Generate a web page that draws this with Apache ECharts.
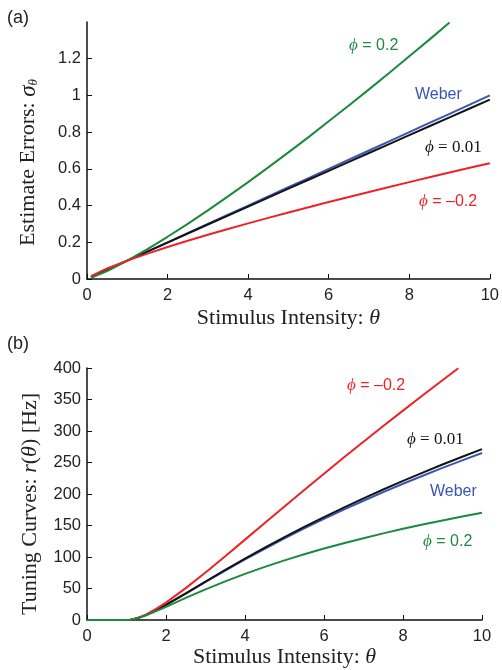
<!DOCTYPE html>
<html>
<head>
<meta charset="utf-8">
<script src="https://cdn.jsdelivr.net/npm/echarts@6/dist/echarts.min.js"></script>
<style>
html,body{margin:0;padding:0;background:#fff;}
#chart{width:502px;height:670px;}
</style>
</head>
<body>
<div id="chart"></div>
<script>
// ---------- Panel (a): estimate errors ----------
const thetaA = [0.1,0.5,1,1.5,2,2.5,3,3.5,4,4.5,5,5.5,6,6.5,7,7.5,8,8.5,9,9.5,10];
const weberA = [0.01,0.05,0.1,0.15,0.2,0.25,0.3,0.35,0.4,0.45,0.5,0.55,0.6,0.65,0.7,0.75,0.8,0.85,0.9,0.95,1.0];
const phi001A = [0.0102,0.0503,0.1,0.1494,0.1986,0.2477,0.2967,0.3456,0.3945,0.4433,0.4920,0.5407,0.5893,0.6379,0.6865,0.7350,0.7835,0.8320,0.8804,0.9288,0.9772];
const phi02A = [0.0063,0.0435,0.1,0.163,0.230,0.300,0.374,0.450,0.528,0.608,0.690,0.773,0.859,0.945,1.033,1.122,1.213,1.304,1.397];
const phim02A = [0.0158,0.0574,0.1,0.1383,0.1741,0.2081,0.2408,0.2724,0.3031,0.3331,0.3624,0.3911,0.4193,0.4470,0.4743,0.5012,0.5278,0.5540,0.5800,0.6056,0.6310];
const yTicksA = [0,0.2,0.4,0.6,0.8,1,1.2];

// ---------- Panel (b): tuning curves ----------
const thetaB = [0,0.5,1,1.1,1.2,1.3,1.4,1.5,1.75,2,2.5,3,3.5,4,4.5,5,5.5,6,6.5,7,7.5,8,8.5,9,9.5,10];
const weberB = [0,0,0,0.454,1.662,3.442,5.661,8.22,15.66,24.02,41.98,60.35,78.47,96.09,113.1,129.5,145.3,160.5,175.2,189.3,203.0,216.2,229.0,241.4,253.4,265.1];
const phi001B = [0,0,0,0.455,1.665,3.451,5.68,8.25,15.75,24.19,42.37,61.02,79.47,97.44,114.8,131.6,147.8,163.4,178.5,193.1,207.1,220.8,233.9,246.8,259.2,271.3];
const phi02B = [0,0,0,0.446,1.603,3.267,5.294,7.59,14.01,20.95,35.04,48.64,61.39,73.29,84.34,94.68,104.3,113.4,121.9,129.9,137.5,144.7,151.5,158.1,164.3,170.2];
const thetaRedB = [0,0.5,1,1.1,1.2,1.3,1.4,1.5,1.75,2,2.5,3,3.5,4,4.5,5,5.5,6,6.5,7,7.5,8,8.5,9,9.4];
const phim02B = [0,0,0,0.463,1.724,3.628,6.057,8.93,17.53,27.64,50.55,75.46,101.3,127.6,153.9,180.2,206.3,232.2,257.8,283.0,307.9,332.4,356.7,380.6,399.6];
const xTicks = [0,2,4,6,8,10];

const pairs = (xs, ys) => ys.map((y, i) => [xs[i], y]);

const C = {green:'#1b8a3e', blue:'#3a55b3', red:'#ec2227', black:'#141414'};
const SANS = 'Liberation Sans';
const SERIF = 'Liberation Serif';
const NAME_FS = 22;

function xAxisCfg(gi, gap){
  return {
    type:'value', gridIndex:gi, min:0, max:10, interval:2,
    axisLine:{show:true, onZero:false, lineStyle:{color:'#111', width:1.5}},
    axisTick:{show:true, inside:true, length:5, lineStyle:{color:'#111', width:1}},
    axisLabel:{show:true, margin:8, fontFamily:SANS, fontSize:16.5, color:'#222'},
    splitLine:{show:false},
    name:'{n|Stimulus Intensity: }{i|θ}', nameLocation:'middle', nameGap:gap,
    nameTextStyle:{rich:{n:{fontFamily:SERIF, fontSize:NAME_FS, color:'#222'}, i:{fontFamily:SERIF, fontStyle:'italic', fontSize:NAME_FS, color:'#222'}}}
  };
}

const lineS = (name, xi, yi, data, color, z) => ({
  name, type:'line', xAxisIndex:xi, yAxisIndex:yi, data, showSymbol:false, symbol:'none',
  smooth:false, lineStyle:{color, width:2}, itemStyle:{color}, z, silent:true, animation:false
});

const chart = echarts.init(document.getElementById('chart'), null, {renderer:'canvas'});
const option = {
  backgroundColor:'#fff',
  animation:false,
  grid:[
    {left:87, right:10, top:22, height:257},
    {left:87, width:395, top:368, height:252}
  ],
  xAxis:[xAxisCfg(0, 28), xAxisCfg(1, 26)],
  yAxis:[
    {
      type:'value', gridIndex:0, min:0, max:1.4, interval:0.2,
      axisLine:{show:true, lineStyle:{color:'#111', width:1.5}},
      axisTick:{show:true, inside:true, length:5, customValues:yTicksA, lineStyle:{color:'#111'}},
      axisLabel:{show:true, margin:6, fontFamily:SANS, fontSize:16.5, color:'#222', customValues:yTicksA},
      splitLine:{show:false},
      name:'{n|Estimate Errors: }{s|σ}{b|θ}', nameLocation:'middle', nameGap:47, nameRotate:90,
      nameTextStyle:{padding:[0,24,0,0], rich:{
        n:{fontFamily:SERIF, fontSize:NAME_FS, color:'#222'},
        s:{fontFamily:SERIF, fontStyle:'italic', fontSize:23, color:'#222'},
        b:{fontFamily:SERIF, fontStyle:'italic', fontSize:13, color:'#222', verticalAlign:'bottom', padding:[9,0,0,0]}
      }}
    },
    {
      type:'value', gridIndex:1, min:0, max:400, interval:50,
      axisLine:{show:true, lineStyle:{color:'#111', width:1.5}},
      axisTick:{show:true, inside:true, length:5, lineStyle:{color:'#111'}},
      axisLabel:{show:true, margin:6, fontFamily:SANS, fontSize:16.5, color:'#222'},
      splitLine:{show:false},
      name:'{n|Tuning Curves: }{i|r}{n|(}{i|θ}{n|) [Hz]}', nameLocation:'middle', nameGap:46, nameRotate:90,
      nameTextStyle:{padding:[0,20,0,0], rich:{
        n:{fontFamily:SERIF, fontSize:NAME_FS, color:'#222'},
        i:{fontFamily:SERIF, fontStyle:'italic', fontSize:NAME_FS, color:'#222'}
      }}
    }
  ],
  series:[
    lineS('Weber', 0, 0, pairs(thetaA, weberA), C.blue, 2),
    lineS('φ = 0.01', 0, 0, pairs(thetaA, phi001A), C.black, 3),
    lineS('φ = 0.2', 0, 0, pairs(thetaA, phi02A), C.green, 4),
    lineS('φ = -0.2', 0, 0, pairs(thetaA, phim02A), C.red, 4),
    lineS('Weber', 1, 1, pairs(thetaB, weberB), C.blue, 2),
    lineS('φ = 0.01', 1, 1, pairs(thetaB, phi001B), C.black, 3),
    lineS('φ = -0.2', 1, 1, pairs(thetaRedB, phim02B), C.red, 4),
    lineS('φ = 0.2', 1, 1, pairs(thetaB, phi02B), C.green, 5)
  ],
  graphic:[]
};

function label(x, y, text, color, serif){
  const fam = serif ? SERIF : SANS;
  return {
    type:'text', x, y, silent:true, z:100,
    style:{
      text, align:'left', verticalAlign:'middle', fill:color,
      rich:{
        p:{fontFamily:SERIF, fontStyle:'italic', fontSize:17, fill:color, color},
        t:{fontFamily:fam, fontSize:serif?17:16, fill:color, color}
      }
    }
  };
}
option.graphic = [
  {type:'text', x:7, y:18, silent:true, style:{text:'(a)', fontFamily:SANS, fontSize:18, fill:'#222', align:'left', verticalAlign:'middle'}},
  {type:'text', x:7, y:344, silent:true, style:{text:'(b)', fontFamily:SANS, fontSize:18, fill:'#222', align:'left', verticalAlign:'middle'}},
  label(349, 46, '{p|ϕ}{t| = 0.2}', C.green, false),
  {type:'text', x:415, y:95, silent:true, style:{text:'Weber', fontFamily:SANS, fontSize:16, fill:C.blue, align:'left', verticalAlign:'middle'}},
  label(425, 148, '{p|ϕ}{t| = 0.01}', C.black, true),
  label(419, 202, '{p|ϕ}{t| = –0.2}', C.red, false),
  label(347, 386, '{p|ϕ}{t| = –0.2}', C.red, false),
  label(407, 440, '{p|ϕ}{t| = 0.01}', C.black, true),
  {type:'text', x:430, y:492, silent:true, style:{text:'Weber', fontFamily:SANS, fontSize:16, fill:C.blue, align:'left', verticalAlign:'middle'}},
  label(423, 542, '{p|ϕ}{t| = 0.2}', C.green, false)
];

chart.setOption(option);
</script>
</body>
</html>
